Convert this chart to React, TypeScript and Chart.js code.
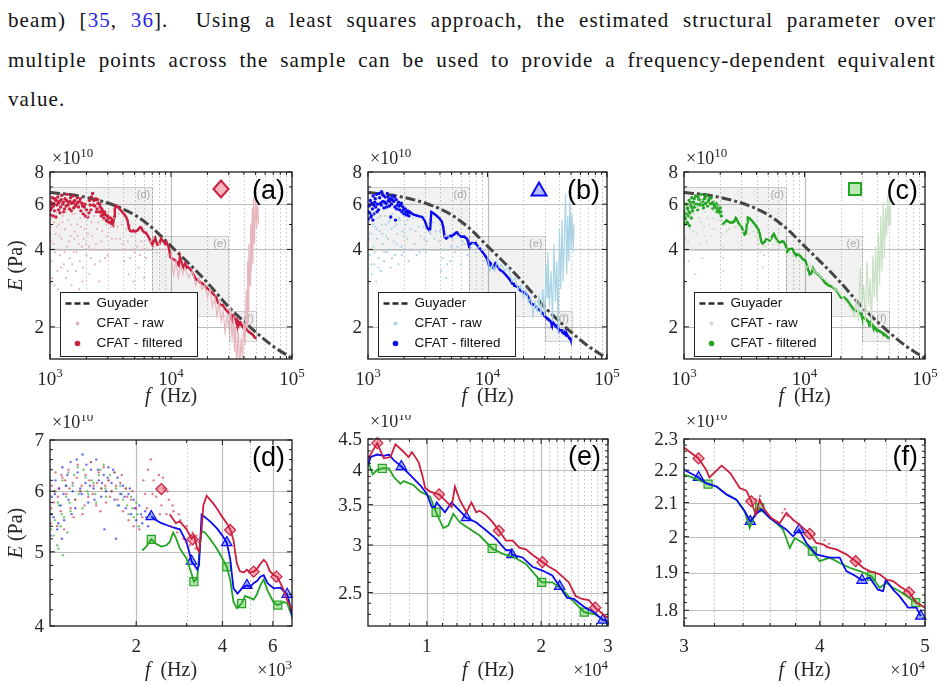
import React, { useEffect, useRef } from "react";
import { Chart, registerables } from "chart.js";

Chart.register(...registerables);

type Pair = [number, number];

// ---------------------------------------------------------------------------
// Data (E in units of 1e10 Pa, f in Hz)
// ---------------------------------------------------------------------------

// Guyader model
const guyaderFreq = [1000, 1500, 2000, 3000, 4000, 5000, 7000, 10000, 15000, 20000, 30000, 40000, 50000, 70000, 100000];
const guyaderModulus = [6.66, 6.53, 6.37, 6.06, 5.75, 5.45, 4.85, 4.12, 3.42, 2.97, 2.39, 2.1, 1.91, 1.68, 1.51];

// CFAT raw estimates, point (a)
const redRawDots: Pair[] = [
  [1010, 4.9], [1020, 4.3], [1030, 3.6], [1045, 3.1], [1050, 5.3], [1070, 4.2], [1080, 5.1], [1090, 2.9],
  [1100, 3.9], [1110, 4.6], [1130, 5.6], [1140, 4.9], [1150, 3.3], [1160, 2.8], [1170, 4.0], [1190, 5.0],
  [1200, 4.5], [1210, 3.8], [1230, 2.7], [1240, 3.4], [1250, 4.4], [1270, 5.1], [1280, 5.4], [1300, 3.5],
  [1320, 3.9], [1330, 4.8], [1350, 5.6], [1360, 3.1], [1390, 4.1], [1400, 3.3], [1420, 5.2], [1440, 4.3],
  [1450, 3.7], [1480, 4.5], [1500, 5.0], [1510, 2.9], [1530, 3.5], [1540, 5.5], [1570, 3.9], [1590, 4.4],
  [1600, 4.7], [1620, 5.5], [1640, 3.3], [1660, 3.9], [1680, 5.0], [1700, 4.5], [1720, 4.2], [1740, 2.8],
  [1760, 3.6], [1780, 5.3], [1800, 4.9], [1830, 4.1], [1850, 3.0], [1880, 3.4], [1900, 4.4], [1930, 4.8],
  [1950, 5.3], [1980, 4.2], [2000, 3.8], [2040, 5.4], [2060, 4.6], [2100, 4.1], [2120, 3.2], [2170, 3.7],
  [2200, 5.1], [2240, 4.5], [2280, 4.0], [2320, 5.4], [2360, 3.5], [2400, 4.2], [2450, 4.8], [2500, 5.1],
  [2550, 3.0], [2600, 3.6], [2650, 4.3], [2700, 4.7], [2750, 5.2], [2800, 4.0], [2850, 3.7], [2900, 5.0],
  [2950, 4.5], [3000, 3.8], [3050, 5.6], [3120, 5.2], [3200, 4.9], [3250, 4.4], [3350, 5.3], [3420, 5.0],
  [3500, 4.4], [3600, 4.9], [3700, 5.5], [3800, 4.4], [3900, 5.0], [4000, 4.2], [4100, 3.6], [4200, 4.0],
  [4300, 4.8], [4400, 4.3], [4500, 3.2], [4600, 3.7], [4700, 4.5], [4800, 4.0], [4900, 3.0], [5000, 3.9],
  [5100, 4.6], [5250, 4.1], [5400, 3.4], [5550, 3.8], [5700, 4.3], [5850, 4.0], [6000, 3.1], [6200, 3.7],
  [6400, 4.0], [6800, 4.3], [7200, 4.1], [7600, 3.9], [8000, 4.2], [8500, 4.0], [9000, 4.0], [9500, 3.8],
];
const redRawTrace: Pair[] = [
  [10000, 3.9], [10500, 3.2], [11000, 3.6], [11500, 3.1], [12000, 3.5], [12500, 3.2], [13000, 3.4], [14000, 3.1],
  [15000, 3.3], [16000, 2.9], [17000, 3.1], [18000, 2.8], [19000, 2.9], [20000, 2.6], [21000, 2.8], [22000, 2.4],
  [23000, 2.6], [24000, 2.2], [25000, 2.5], [26000, 2.1], [27000, 2.3], [28000, 1.9], [29000, 2.2], [30000, 2.0],
  [31000, 2.4], [32000, 1.8], [33000, 2.2], [33500, 1.6], [34000, 2.0], [35000, 1.45], [36000, 1.9], [37000, 1.4],
  [38000, 1.8], [39000, 1.5], [40000, 2.1], [41000, 1.7], [42000, 2.8], [42500, 2.0], [43000, 3.6], [43500, 2.3],
  [44000, 4.2], [45000, 2.9], [45500, 5.0], [46000, 3.3], [47000, 5.8], [47500, 3.5], [48000, 6.4], [49000, 4.2],
  [50000, 6.8], [51000, 4.8], [52000, 6.1], [53000, 5.0],
];

// CFAT raw estimates, point (b)
const blueRawDots: Pair[] = [
  [1010, 5.1], [1020, 4.4], [1030, 3.8], [1050, 4.6], [1060, 3.5], [1070, 3.2], [1090, 5.5], [1100, 5.0],
  [1110, 4.1], [1130, 3.5], [1140, 3.9], [1150, 4.9], [1170, 3.0], [1180, 4.8], [1190, 4.4], [1210, 5.3],
  [1220, 3.4], [1230, 3.7], [1250, 4.7], [1270, 5.4], [1280, 3.3], [1300, 5.0], [1320, 4.6], [1330, 4.2],
  [1360, 3.6], [1370, 3.9], [1390, 5.4], [1410, 5.0], [1420, 4.5], [1450, 3.9], [1470, 4.4], [1480, 5.1],
  [1510, 4.0], [1530, 5.2], [1540, 3.4], [1570, 4.8], [1590, 3.7], [1600, 5.5], [1640, 4.3], [1660, 4.9],
  [1680, 3.8], [1720, 5.0], [1740, 4.2], [1760, 4.6], [1800, 3.5], [1820, 5.3], [1850, 5.2], [1900, 4.1],
  [1920, 3.8], [1950, 4.7], [2000, 3.9], [2020, 4.5], [2060, 5.0], [2120, 4.4], [2150, 5.2], [2200, 3.6],
  [2280, 4.8], [2320, 4.0], [2360, 5.3], [2450, 4.2], [2500, 4.7], [2550, 3.8], [2650, 4.9], [2700, 3.9],
  [2750, 4.5], [2850, 4.0], [2900, 4.9], [2950, 4.4], [3050, 3.9], [3100, 4.3], [3200, 5.0], [3300, 4.7],
  [3350, 4.6], [3500, 5.1], [3600, 4.4], [3700, 4.7], [3900, 4.3], [4000, 4.7], [4100, 3.3], [4200, 3.7],
  [4300, 4.0], [4400, 4.5], [4500, 3.1], [4600, 3.5], [4700, 4.5], [4900, 3.6], [5000, 4.1], [5100, 4.4],
  [5400, 3.9], [5600, 4.1], [5700, 4.5], [6000, 3.5], [6200, 4.3], [6400, 4.2], [6800, 3.8], [7200, 4.1],
  [7600, 4.2], [8000, 3.9], [8500, 4.1], [9000, 4.0], [9500, 3.6],
];
const blueRawTrace: Pair[] = [
  [10000, 3.7], [10500, 3.3], [11000, 3.5], [11500, 3.3], [12000, 3.6], [12500, 3.4], [13000, 3.5], [14000, 3.3],
  [15000, 3.4], [16000, 3.0], [17000, 3.1], [18000, 2.8], [19000, 2.9], [20000, 2.6], [21000, 2.8], [22000, 2.5],
  [23000, 2.6], [24000, 2.2], [25000, 2.5], [26000, 2.3], [27000, 2.6], [28000, 2.2], [29000, 2.8], [30000, 2.2],
  [31000, 3.5], [31500, 2.6], [32000, 3.9], [33000, 2.4], [34000, 3.3], [35000, 2.1], [36000, 4.2], [37000, 2.5],
  [38000, 3.6], [39000, 1.9], [40000, 4.8], [41000, 2.8], [42000, 5.2], [43000, 3.0], [44000, 4.4], [45000, 6.6],
  [46000, 3.2], [47000, 5.4], [48000, 3.6], [49000, 6.3], [50000, 4.0], [51000, 5.5], [52000, 3.9], [53000, 5.0],
];

// CFAT raw estimates, point (c)
const greenRawDots: Pair[] = [
  [1010, 5.9], [1030, 4.4], [1040, 5.6], [1060, 5.2], [1080, 4.3], [1090, 3.6], [1120, 4.8], [1130, 5.4],
  [1150, 6.2], [1180, 4.0], [1200, 4.7], [1210, 5.5], [1240, 3.2], [1260, 5.9], [1270, 4.6], [1300, 5.8],
  [1330, 5.3], [1340, 4.2], [1380, 5.1], [1400, 6.2], [1420, 3.7], [1460, 4.9], [1480, 4.5], [1500, 5.6],
  [1540, 4.3], [1560, 5.3], [1580, 6.0], [1620, 5.0], [1640, 5.9], [1660, 4.5], [1700, 5.7], [1720, 4.8],
  [1750, 5.3], [1800, 6.1], [1820, 5.7], [1850, 4.8], [1900, 5.5], [1920, 5.2], [1950, 5.9], [2050, 5.2],
  [2080, 4.6], [2100, 4.1], [2110, 3.7], [2120, 3.3], [2200, 5.0], [2250, 4.7], [2350, 4.8], [2500, 5.2],
  [2600, 4.9], [2700, 4.9], [2900, 5.3], [3000, 5.0], [3100, 4.7], [3300, 5.1], [3400, 4.8], [3500, 4.6],
  [3700, 4.9], [3800, 4.7], [3900, 4.5], [4100, 4.4], [4200, 4.2], [4300, 3.9], [4500, 3.4], [4600, 3.8],
  [4700, 4.1], [4900, 4.3], [5200, 4.4], [5500, 4.2], [5800, 4.3], [6200, 4.1], [6600, 4.0], [7000, 4.0],
  [7500, 3.9], [8000, 3.8], [8500, 3.7], [9000, 3.6], [9500, 3.55],
];
const greenRawTrace: Pair[] = [
  [10000, 3.5], [10500, 3.4], [11000, 3.5], [12000, 3.3], [13000, 3.2], [14000, 3.1], [15000, 3.05], [16000, 2.95],
  [17000, 2.9], [18000, 2.8], [19000, 2.75], [20000, 2.65], [21000, 2.6], [22000, 2.5], [23000, 2.45], [24000, 2.35],
  [25000, 2.3], [26000, 2.2], [27000, 2.6], [28000, 2.1], [29000, 3.4], [30000, 2.3], [31000, 2.9], [32000, 2.1],
  [33000, 3.6], [34000, 2.4], [35000, 3.1], [36000, 2.0], [37000, 3.8], [38000, 2.6], [39000, 4.1], [40000, 2.5],
  [41000, 4.6], [42000, 2.9], [43000, 5.4], [44000, 3.3], [45000, 6.1], [46000, 3.7], [47000, 5.8], [48000, 4.5],
  [49000, 6.5], [50000, 4.9], [51000, 6.2], [52000, 5.0],
];

// CFAT filtered estimates: scattered low-frequency part
const redCloud: Pair[] = [
  [1005, 5.45], [1010, 5.7], [1015, 6.1], [1030, 5.8], [1035, 6.0], [1045, 6.35], [1060, 5.4], [1065, 5.9],
  [1075, 6.05], [1090, 5.65], [1095, 6.3], [1105, 6.25], [1120, 5.35], [1130, 6.2], [1140, 5.95], [1160, 6.4],
  [1170, 6.05], [1180, 5.7], [1200, 6.15], [1210, 5.55], [1225, 5.85], [1240, 6.25], [1250, 6.5], [1275, 6.0],
  [1290, 6.1], [1300, 5.6], [1320, 5.75], [1330, 6.3], [1360, 5.9], [1370, 6.2], [1390, 6.55], [1410, 5.95],
  [1420, 6.1], [1450, 5.75], [1460, 6.15], [1480, 6.35], [1500, 5.65], [1510, 6.05], [1540, 6.45], [1560, 6.1],
  [1570, 5.8], [1600, 6.2], [1620, 5.9], [1640, 6.0], [1680, 6.35], [1700, 6.1], [1720, 5.85], [1760, 6.15],
  [1780, 6.3], [1800, 5.65], [1840, 6.05], [1860, 5.9], [1880, 5.5], [1920, 5.85], [1940, 6.0], [1960, 5.4],
  [2000, 5.7], [2050, 5.35], [2100, 5.55], [2120, 6.2], [2150, 5.95], [2180, 5.7], [2200, 6.4], [2250, 6.6],
  [2280, 5.95], [2300, 6.2], [2350, 5.9], [2400, 6.3], [2420, 5.6], [2450, 5.75], [2480, 6.25], [2500, 6.05],
  [2550, 5.6], [2570, 6.0], [2600, 5.85], [2650, 5.4], [2680, 5.75], [2700, 5.65], [2780, 5.3], [2820, 5.6],
  [2850, 5.5], [2920, 5.2], [2980, 5.15], [3000, 5.4], [3080, 5.1], [3150, 5.3], [3220, 5.05], [3250, 5.25],
  [3300, 5.15],
  [34950, 2.11], [35100, 2.08], [35250, 2.12], [35450, 2.09], [36950, 2.07], [37150, 2.08], [37350, 2.06],
  [40400, 1.99], [40600, 1.97], [40800, 1.98],
];
const blueCloud: Pair[] = [
  [1005, 5.25], [1010, 5.6], [1015, 5.9], [1030, 5.55], [1040, 5.95], [1045, 6.2], [1060, 5.35], [1070, 5.45],
  [1075, 6.05], [1090, 5.75], [1100, 5.2], [1105, 6.45], [1115, 5.95], [1120, 5.5], [1140, 6.1], [1150, 6.3],
  [1160, 5.85], [1180, 6.55], [1190, 5.6], [1200, 6.0], [1225, 5.7], [1240, 6.6], [1250, 6.35], [1275, 6.05],
  [1290, 5.95], [1300, 6.7], [1330, 6.15], [1340, 6.5], [1360, 5.8], [1380, 6.1], [1390, 6.4], [1420, 6.05],
  [1430, 5.85], [1450, 6.6], [1470, 6.4], [1480, 6.2], [1510, 5.9], [1520, 6.15], [1540, 6.3], [1550, 5.35],
  [1570, 6.0], [1590, 6.25], [1600, 6.45], [1640, 6.15], [1660, 6.4], [1680, 5.85], [1700, 5.2], [1720, 6.25],
  [1740, 5.75], [1760, 5.95], [1800, 6.1], [1820, 5.9], [1840, 5.7], [1880, 5.95], [1900, 6.05], [1920, 5.6],
  [1960, 5.85], [1980, 5.7], [2000, 5.5], [2050, 5.75], [2080, 5.6], [2100, 5.45], [2150, 5.65], [2170, 5.55],
  [2200, 5.4], [2230, 5.6],
];
const greenCloud: Pair[] = [
  [1005, 5.0], [1010, 5.35], [1015, 5.6], [1030, 5.25], [1040, 5.5], [1045, 6.0], [1060, 5.1], [1065, 5.8],
  [1070, 5.05], [1075, 5.75], [1090, 5.4], [1100, 5.6], [1105, 6.2], [1110, 4.95], [1120, 5.55], [1135, 6.1],
  [1140, 5.9], [1150, 5.3], [1160, 6.35], [1170, 5.8], [1180, 5.65], [1200, 6.1], [1215, 6.3], [1225, 5.85],
  [1250, 6.45], [1260, 5.95], [1275, 6.0], [1300, 5.7], [1310, 6.4], [1330, 6.25], [1350, 6.0], [1360, 5.95],
  [1390, 6.55], [1400, 6.2], [1420, 6.15], [1440, 5.95], [1450, 5.8], [1480, 6.3], [1500, 6.4], [1510, 6.05],
  [1540, 6.5], [1560, 6.05], [1570, 5.9], [1600, 6.2], [1620, 6.3], [1640, 6.0], [1680, 6.35], [1700, 6.05],
  [1720, 5.75], [1760, 6.1], [1780, 5.95], [1800, 5.85], [1840, 6.05], [1860, 5.75], [1880, 5.6], [1920, 5.9],
  [1940, 5.7], [1960, 5.55], [2000, 5.8], [2020, 5.6], [2040, 5.4],
];

// CFAT filtered estimates: continuous part
const redFiltered: Pair[] = [
  [2620, 5.6], [2750, 5.45], [2841, 5.48], [2998, 5.35], [3122, 5.2], [3181, 5.25], [3268, 5.05], [3313, 5.0],
  [3385, 5.35], [3431, 5.75], [3525, 5.92], [3620, 5.85], [3720, 5.78], [3822, 5.7], [4000, 5.55], [4143, 5.45],
  [4257, 5.35], [4373, 5.18], [4430, 5.0], [4493, 4.83], [4600, 4.72], [4750, 4.7], [4871, 4.74], [5000, 4.7],
  [5141, 4.71], [5282, 4.75], [5426, 4.82], [5575, 4.88], [5700, 4.84], [5850, 4.72], [6045, 4.66], [6210, 4.64],
  [6380, 4.55], [6554, 4.45], [6733, 4.32], [6900, 4.25],
  [7016, 4.18], [7200, 4.3], [7406, 4.43], [7550, 4.3], [7708, 4.18], [8023, 4.2], [8268, 4.41], [8604, 4.31],
  [8957, 4.2], [9139, 4.28], [9512, 4.12], [9750, 3.9], [9901, 3.73], [10200, 3.68], [10770, 3.64], [11160, 3.56],
  [11620, 3.47], [11860, 3.75], [12220, 3.56], [12720, 3.4], [13100, 3.53], [13500, 3.4], [13780, 3.42], [14340, 3.36],
  [14920, 3.27], [15470, 3.17], [16170, 3.05], [16830, 3.05], [17520, 2.97], [18230, 2.95], [18970, 2.89], [20150, 2.81],
  [20970, 2.76], [21840, 2.72], [22730, 2.66], [23650, 2.6], [24620, 2.47], [25620, 2.44], [26680, 2.43], [27770, 2.36],
  [28910, 2.31], [29610, 2.28],
  [30000, 2.272], [30940, 2.237], [31440, 2.201], [31660, 2.177], [32490, 2.214], [33100, 2.19], [33760, 2.144],
  [34240, 2.136], [34600, 2.104], [34920, 2.064], [35220, 2.109], [35600, 2.078], [36100, 2.054], [36750, 2.039],
  [37270, 2.069], [37800, 2.049], [38340, 2.034], [39160, 2.008], [39710, 1.982], [40280, 1.978], [40850, 1.968],
  [41440, 1.964], [42320, 1.95], [43170, 1.931], [43850, 1.913], [44470, 1.904], [45420, 1.895], [46070, 1.881],
  [46730, 1.877], [47390, 1.863], [48340, 1.847], [49100, 1.82], [49970, 1.807],
];
const blueFiltered: Pair[] = [
  [2258, 5.56], [2351, 5.5], [2449, 5.45], [2550, 5.42], [2691, 5.38], [2841, 5.35], [2998, 5.15], [3122, 4.86],
  [3200, 4.8], [3268, 4.74], [3313, 4.8], [3385, 5.59], [3477, 5.55], [3620, 5.48], [3822, 5.37], [4000, 5.25],
  [4143, 5.14], [4257, 4.9], [4373, 4.48], [4517, 4.41], [4677, 4.48], [4871, 4.52], [5000, 4.5], [5141, 4.55],
  [5282, 4.58], [5426, 4.64], [5575, 4.66], [5750, 4.55], [6045, 4.48], [6380, 4.49], [6554, 4.44], [6733, 4.4],
  [6900, 4.25],
  [7016, 4.09], [7116, 4.2], [7406, 4.24], [7708, 4.22], [7943, 4.24], [8185, 4.15], [8570, 4.05], [9048, 3.92],
  [9607, 3.77], [10000, 3.65], [10300, 3.47], [10510, 3.47], [10620, 3.53], [11160, 3.4], [11620, 3.53], [12720, 3.33],
  [13500, 3.27], [14340, 3.17], [15220, 3.07], [16170, 2.94], [16660, 2.94], [16760, 2.89], [17870, 2.86], [18970, 2.76],
  [20150, 2.72], [21400, 2.67], [22370, 2.56], [23420, 2.45], [24380, 2.44], [26150, 2.36], [27770, 2.31], [29080, 2.25],
  [29610, 2.25],
  [30000, 2.201], [30940, 2.177], [31440, 2.159], [32140, 2.149], [32850, 2.124], [33520, 2.109], [34120, 2.074],
  [34530, 2.044], [34920, 2.064], [35350, 2.08], [35980, 2.054], [36750, 2.034], [37270, 2.02], [37800, 2.001],
  [38290, 2.02], [38880, 1.982], [39710, 1.95], [40850, 1.941], [41730, 1.941], [42320, 1.904], [43190, 1.89],
  [43750, 1.879], [44470, 1.886], [45260, 1.854], [45750, 1.85], [46010, 1.881], [46730, 1.854], [47390, 1.836],
  [48240, 1.807], [49100, 1.807], [49550, 1.785],
];
const greenFiltered: Pair[] = [
  [2100, 5.02], [2169, 5.08], [2258, 5.19], [2351, 5.12], [2449, 5.08], [2550, 5.1], [2620, 5.15], [2691, 5.3],
  [2750, 5.22], [2841, 5.05], [2998, 4.9], [3122, 4.68], [3181, 4.57], [3268, 4.62], [3340, 5.1], [3385, 5.32],
  [3477, 5.3], [3620, 5.2], [3822, 5.05], [4000, 4.9], [4143, 4.78], [4257, 4.6], [4373, 4.3], [4493, 4.22],
  [4666, 4.28], [4800, 4.38], [4937, 4.36], [5141, 4.33], [5282, 4.4], [5426, 4.52], [5575, 4.6], [5750, 4.45],
  [6045, 4.29], [6244, 4.26], [6554, 4.3], [6733, 4.28], [6900, 4.18],
  [7016, 4.12], [7200, 3.93], [7406, 4.0], [7632, 4.02], [7943, 4.02], [8185, 3.89], [8520, 3.79], [8692, 3.83],
  [9231, 3.77], [9607, 3.68], [10200, 3.61], [10580, 3.4], [11050, 3.2], [11390, 3.23], [11740, 3.38], [12220, 3.27],
  [12970, 3.19], [13780, 3.11], [14860, 2.96], [15850, 2.9], [16830, 2.87], [18230, 2.79], [20070, 2.6], [21400, 2.6],
  [22730, 2.53], [24130, 2.43], [25980, 2.32], [27770, 2.3], [29610, 2.24],
  [30000, 2.185], [30360, 2.18], [31570, 2.156], [32140, 2.149], [32850, 2.124], [33520, 2.109], [34120, 2.074],
  [34480, 2.025], [34850, 2.064], [35220, 2.085], [35730, 2.064], [36490, 2.039], [37010, 2.02], [37540, 1.968],
  [37940, 1.996], [38610, 1.982], [39380, 1.959], [40000, 1.931], [40850, 1.941], [41730, 1.926], [42620, 1.913],
  [43540, 1.904], [44630, 1.89], [45420, 1.859], [46070, 1.872], [46730, 1.859], [47390, 1.85], [49030, 1.82],
  [49970, 1.807],
];

// Marker positions along the filtered curves
const redMarkers: Pair[] = [
  [2449, 6.04], [3147, 5.19], [4257, 5.34], [5141, 4.71], [6176, 4.64], [7406, 4.43], [10770, 3.64], [15470, 3.17],
  [20150, 2.81], [27770, 2.36], [30940, 2.237], [34600, 2.104], [39160, 2.008], [43170, 1.931], [48340, 1.847],
];
const blueMarkers: Pair[] = [
  [2258, 5.56], [3122, 4.86], [4143, 5.14], [4871, 4.52], [6733, 4.4], [8570, 4.05], [12720, 3.33], [16760, 2.89],
  [22370, 2.56], [29080, 2.25], [30940, 2.177], [34530, 2.044], [38290, 2.02], [43750, 1.879], [49550, 1.785],
];
const greenMarkers: Pair[] = [
  [2258, 5.19], [3181, 4.57], [4143, 4.78], [4666, 4.28], [6244, 4.26], [7632, 4.02], [10580, 3.4], [14860, 2.96],
  [20070, 2.6], [25980, 2.32], [31570, 2.156], [35220, 2.085], [39380, 1.959], [44630, 1.89], [49030, 1.82],
];

// Axis ranges and tick labels
const overviewFRange: Pair = [1000, 100000];
const overviewERange: Pair = [1.5, 8];
const dFRange: Pair = [1000, 7000];
const dERange: Pair = [4, 7];
const eFRange: Pair = [7000, 30000];
const eERange: Pair = [2.2, 4.5];
const fFRange: Pair = [30000, 50000];
const fERange: Pair = [1.76, 2.3];

const overviewFTicks = [1000, 10000, 100000];
const overviewFTickExp = ["3", "4", "5"];
const overviewETicks = [2, 4, 6, 8];
const overviewETickLabels = ["2", "4", "6", "8"];
const dFTicks = [2000, 4000, 6000];
const dFTickLabels = ["2", "4", "6"];
const dETicks = [4, 5, 6, 7];
const dETickLabels = ["4", "5", "6", "7"];
const eFTicks = [10000, 20000, 30000];
const eFTickLabels = ["1", "2", "3"];
const eETicks = [2.5, 3, 3.5, 4, 4.5];
const eETickLabels = ["2.5", "3", "3.5", "4", "4.5"];
const fFTicks = [30000, 40000, 50000];
const fFTickLabels = ["3", "4", "5"];
const fETicks = [1.8, 1.9, 2, 2.1, 2.2, 2.3];
const fETickLabels = ["1.8", "1.9", "2", "2.1", "2.2", "2.3"];

// Zoom regions outlined on the overview panels
const zoomBoxes = [
  { label: "(d)", f: dFRange, e: dERange },
  { label: "(e)", f: eFRange, e: eERange },
  { label: "(f)", f: fFRange, e: fERange },
];

// ---------------------------------------------------------------------------
// Styling
// ---------------------------------------------------------------------------

const SERIF = '"Liberation Serif", "Times New Roman", serif';
const SANS = '"Liberation Sans", Arial, Helvetica, sans-serif';

const SERIES: Record<string, any> = {
  red: {
    main: "#cc1f3f", raw: "#e6b6be", cloud: "rgba(204,31,63,0.6)", markerFill: "rgba(242,160,170,0.9)",
    bigFill: "#f5b7bc", style: "rectRot", markerSize: 5.5,
    rawDots: redRawDots, rawTrace: redRawTrace, cloudPts: redCloud, line: redFiltered, markers: redMarkers,
  },
  blue: {
    main: "#0b0bf2", raw: "#aad4e5", cloud: "rgba(11,11,242,0.6)", markerFill: "rgba(150,168,255,0.9)",
    bigFill: "#b7c3ff", style: "triangle", markerSize: 6,
    rawDots: blueRawDots, rawTrace: blueRawTrace, cloudPts: blueCloud, line: blueFiltered, markers: blueMarkers,
  },
  green: {
    main: "#23a523", raw: "#c8e1c4", cloud: "rgba(35,165,35,0.6)", markerFill: "rgba(168,224,158,0.9)",
    bigFill: "#c0e9b6", style: "rect", markerSize: 5.7,
    rawDots: greenRawDots, rawTrace: greenRawTrace, cloudPts: greenCloud, line: greenFiltered, markers: greenMarkers,
  },
};

const stepRange = (a: number, b: number, step: number) => {
  const out: number[] = [];
  for (let v = a; v <= b + 1e-9; v += step) out.push(+v.toFixed(4));
  return out;
};
const without = (arr: number[], ex: number[]) => arr.filter((v) => !ex.some((e) => Math.abs(e - v) < 1e-6));

const overviewMinor = [...stepRange(2000, 9000, 1000), ...stepRange(20000, 90000, 10000)];
const eMinor = without(stepRange(8000, 29000, 1000), [10000, 20000]);
const fMinor = without(stepRange(32000, 48000, 2000), [40000]);

const AXES: Record<string, any> = {
  top: {
    xRange: overviewFRange, yRange: overviewERange, xTicks: overviewFTicks, xLabels: overviewFTickExp, xPow: true,
    xMinor: overviewMinor, xSolid: [10000], xDotted: overviewMinor,
    yTicks: overviewETicks, yLabels: overviewETickLabels, yMinor: [3, 5, 7], ySolid: [2, 4, 6],
    xExp: null, expBase: 8, titleBase: 43,
  },
  d: {
    xRange: dFRange, yRange: dERange, xTicks: dFTicks, xLabels: dFTickLabels, xPow: false,
    xMinor: [3000, 5000], xSolid: [2000, 4000, 6000], xDotted: [3000, 5000],
    yTicks: dETicks, yLabels: dETickLabels, yMinor: without(stepRange(4.2, 6.8, 0.2), [5, 6]), ySolid: [5, 6],
    xExp: "3", expBase: 12, titleBase: 50,
  },
  e: {
    xRange: eFRange, yRange: eERange, xTicks: eFTicks, xLabels: eFTickLabels, xPow: false,
    xMinor: eMinor, xSolid: [10000, 20000], xDotted: eMinor,
    yTicks: eETicks, yLabels: eETickLabels, yMinor: without(stepRange(2.3, 4.4, 0.1), [2.5, 3, 3.5, 4]),
    ySolid: [2.5, 3, 3.5, 4], xExp: "4", expBase: 12, titleBase: 50,
  },
  f: {
    xRange: fFRange, yRange: fERange, xTicks: fFTicks, xLabels: fFTickLabels, xPow: false,
    xMinor: fMinor, xSolid: [40000], xDotted: fMinor,
    yTicks: fETicks, yLabels: fETickLabels, yMinor: without(stepRange(1.78, 2.28, 0.02), [1.8, 1.9, 2, 2.1, 2.2]),
    ySolid: [1.8, 1.9, 2, 2.1, 2.2], xExp: "4", expBase: 12, titleBase: 50,
  },
};

const PANELS = [
  { id: "a", axes: "top", color: "red", label: "(a)", yTitle: true, canvas: { x: 0, y: 140, w: 318, h: 275 }, area: { l: 50, t: 172, r: 292, b: 359 } },
  { id: "b", axes: "top", color: "blue", label: "(b)", yTitle: false, canvas: { x: 318, y: 140, w: 318, h: 275 }, area: { l: 368, t: 172, r: 607, b: 359 } },
  { id: "c", axes: "top", color: "green", label: "(c)", yTitle: false, canvas: { x: 636, y: 140, w: 308, h: 275 }, area: { l: 684, t: 172, r: 925, b: 359 } },
  { id: "d", axes: "d", color: null, label: "(d)", yTitle: true, canvas: { x: 0, y: 415, w: 318, h: 271 }, area: { l: 50, t: 440, r: 292, b: 626 } },
  { id: "e", axes: "e", color: null, label: "(e)", yTitle: false, canvas: { x: 318, y: 415, w: 318, h: 271 }, area: { l: 368, t: 439, r: 608, b: 626 } },
  { id: "f", axes: "f", color: null, label: "(f)", yTitle: false, canvas: { x: 636, y: 415, w: 308, h: 271 }, area: { l: 684, t: 439, r: 925, b: 626 } },
];

// ---------------------------------------------------------------------------
// Drawing helpers
// ---------------------------------------------------------------------------

const toPts = (arr: Pair[]) => arr.map(([x, y]) => ({ x, y }));

function seg(ctx: CanvasRenderingContext2D, x0: number, y0: number, x1: number, y1: number) {
  ctx.beginPath();
  ctx.moveTo(x0, y0);
  ctx.lineTo(x1, y1);
  ctx.stroke();
}

function supText(ctx: CanvasRenderingContext2D, base: string, sup: string, x: number, y: number,
  align: string, baseSize: number, supSize: number, rise: number) {
  ctx.font = `${baseSize}px ${SERIF}`;
  const w1 = ctx.measureText(base).width;
  ctx.font = `${supSize}px ${SERIF}`;
  const w2 = ctx.measureText(sup).width;
  const total = w1 + w2;
  const x0 = align === "center" ? x - total / 2 : align === "right" ? x - total : x;
  ctx.textAlign = "left";
  ctx.textBaseline = "alphabetic";
  ctx.font = `${baseSize}px ${SERIF}`;
  ctx.fillText(base, x0, y);
  ctx.font = `${supSize}px ${SERIF}`;
  ctx.fillText(sup, x0 + w1, y - rise);
}

function mixedText(ctx: CanvasRenderingContext2D, italicPart: string, rest: string, cx: number, y: number, size: number) {
  ctx.font = `italic ${size}px ${SERIF}`;
  const w1 = ctx.measureText(italicPart).width;
  ctx.font = `${size}px ${SERIF}`;
  const w2 = ctx.measureText(rest).width;
  const x0 = cx - (w1 + w2) / 2;
  ctx.textAlign = "left";
  ctx.font = `italic ${size}px ${SERIF}`;
  ctx.fillText(italicPart, x0, y);
  ctx.font = `${size}px ${SERIF}`;
  ctx.fillText(rest, x0 + w1, y);
}

function decorPlugin(panel: any) {
  const ax = AXES[panel.axes];
  const isTop = panel.axes === "top";
  return {
    id: "decor",
    beforeDatasetsDraw(chart: any) {
      const ctx: CanvasRenderingContext2D = chart.ctx;
      const { left, top, right, bottom } = chart.chartArea;
      const X = (v: number) => chart.scales.x.getPixelForValue(v);
      const Y = (v: number) => chart.scales.y.getPixelForValue(v);
      ctx.save();
      ctx.fillStyle = "#ffffff";
      ctx.fillRect(left, top, right - left, bottom - top);

      ctx.lineWidth = 1;
      ctx.strokeStyle = "#c2c2c2";
      ctx.setLineDash([1.5, 2.5]);
      ax.xDotted.forEach((v: number) => {
        const p = Math.round(X(v)) + 0.5;
        seg(ctx, p, top, p, bottom);
      });
      ctx.setLineDash([]);
      ctx.strokeStyle = "#bdbdbd";
      ctx.lineWidth = 1.2;
      ax.xSolid.forEach((v: number) => {
        const p = Math.round(X(v)) + 0.5;
        seg(ctx, p, top, p, bottom);
      });
      ax.ySolid.forEach((v: number) => {
        const p = Math.round(Y(v)) + 0.5;
        seg(ctx, left, p, right, p);
      });

      if (isTop) {
        ctx.beginPath();
        ctx.rect(left, top, right - left, bottom - top);
        ctx.clip();
        zoomBoxes.forEach((b) => {
          const x0 = X(b.f[0]);
          const x1 = X(b.f[1]);
          const y0 = Y(b.e[1]);
          const y1 = Y(b.e[0]);
          ctx.fillStyle = "rgba(0,0,0,0.055)";
          ctx.fillRect(x0, y0, x1 - x0, y1 - y0);
          ctx.strokeStyle = "rgba(0,0,0,0.16)";
          ctx.lineWidth = 1;
          ctx.strokeRect(Math.round(x0) + 0.5, Math.round(y0) + 0.5, Math.round(x1 - x0), Math.round(y1 - y0));
          ctx.fillStyle = "#a9a9a9";
          ctx.font = `11px ${SANS}`;
          ctx.textAlign = "right";
          ctx.textBaseline = "middle";
          ctx.fillText(b.label, x1 - 2, y0 + 8);
        });
      }
      ctx.restore();
    },
    afterDatasetsDraw(chart: any) {
      const ctx: CanvasRenderingContext2D = chart.ctx;
      const { left, top, right, bottom } = chart.chartArea;
      const X = (v: number) => chart.scales.x.getPixelForValue(v);
      const Y = (v: number) => chart.scales.y.getPixelForValue(v);
      ctx.save();
      ctx.setLineDash([]);

      // axes box
      ctx.strokeStyle = "#1c1c1c";
      ctx.lineWidth = 1.3;
      ctx.strokeRect(left, top, right - left, bottom - top);

      // inward tick marks
      ctx.lineWidth = 1;
      const xTick = (v: number, len: number) => {
        const p = X(v);
        seg(ctx, p, bottom, p, bottom - len);
        seg(ctx, p, top, p, top + len);
      };
      const yTick = (v: number, len: number) => {
        const p = Y(v);
        seg(ctx, left, p, left + len, p);
        seg(ctx, right, p, right - len, p);
      };
      ax.xTicks.forEach((v: number) => xTick(v, 5));
      ax.xMinor.forEach((v: number) => xTick(v, 3));
      ax.yTicks.forEach((v: number) => yTick(v, 5));
      ax.yMinor.forEach((v: number) => yTick(v, 3));

      // tick labels
      ctx.fillStyle = "#262626";
      ax.yTicks.forEach((v: number, i: number) => {
        ctx.font = `19px ${SERIF}`;
        ctx.textAlign = "right";
        ctx.textBaseline = "middle";
        ctx.fillText(ax.yLabels[i], left - 6, Y(v) + 1);
      });
      ax.xTicks.forEach((v: number, i: number) => {
        if (ax.xPow) {
          supText(ctx, "10", ax.xLabels[i], X(v), bottom + 26, "center", 19, 13, 8);
        } else {
          ctx.font = `19px ${SERIF}`;
          ctx.textAlign = "center";
          ctx.textBaseline = "alphabetic";
          ctx.fillText(ax.xLabels[i], X(v), bottom + 26);
        }
      });

      // exponent multipliers
      supText(ctx, "\u00d710", "10", left + 2, top - ax.expBase, "left", 18, 13, 7);
      if (ax.xExp) supText(ctx, "\u00d710", ax.xExp, right, bottom + 50, "right", 18, 13, 7);

      // axis titles
      ctx.textBaseline = "alphabetic";
      mixedText(ctx, "f", "  (Hz)", (left + right) / 2, bottom + ax.titleBase, 20);
      if (panel.yTitle) {
        ctx.save();
        ctx.translate(left - 28, (top + bottom) / 2);
        ctx.rotate(-Math.PI / 2);
        mixedText(ctx, "E", " (Pa)", 0, 0, 20);
        ctx.restore();
      }

      // panel letter
      ctx.fillStyle = "#000000";
      ctx.font = `27px ${SANS}`;
      ctx.textAlign = "right";
      ctx.textBaseline = "middle";
      ctx.fillText(panel.label, right - 7, top + (isTop ? 20 : 19));

      if (isTop) {
        const s = SERIES[panel.color];
        // point symbol
        const mx = left + 171;
        const my = top + 17;
        ctx.lineWidth = 2;
        ctx.strokeStyle = s.main;
        ctx.fillStyle = s.bigFill;
        ctx.beginPath();
        if (panel.color === "red") {
          ctx.moveTo(mx, my - 8.5);
          ctx.lineTo(mx + 7.5, my);
          ctx.lineTo(mx, my + 8.5);
          ctx.lineTo(mx - 7.5, my);
        } else if (panel.color === "blue") {
          ctx.moveTo(mx, my - 6.5);
          ctx.lineTo(mx + 7.5, my + 6.5);
          ctx.lineTo(mx - 7.5, my + 6.5);
        } else {
          ctx.rect(mx - 6, my - 6, 12, 12);
        }
        ctx.closePath();
        ctx.fill();
        ctx.stroke();

        // legend
        const lx = left + 10.5;
        const ly = bottom - 66.5;
        const lw = 137;
        const lh = 64;
        ctx.fillStyle = "#ffffff";
        ctx.fillRect(lx, ly, lw, lh);
        ctx.strokeStyle = "#222222";
        ctx.lineWidth = 1;
        ctx.strokeRect(lx, ly, lw, lh);
        ctx.strokeStyle = "#2a2a2a";
        ctx.lineWidth = 2.6;
        ctx.setLineDash([6, 3]);
        seg(ctx, lx + 5, ly + 11, lx + 30, ly + 11);
        ctx.setLineDash([]);
        ctx.fillStyle = s.raw;
        ctx.beginPath();
        ctx.arc(lx + 17, ly + 31, 2, 0, Math.PI * 2);
        ctx.fill();
        ctx.fillStyle = s.main;
        ctx.beginPath();
        ctx.arc(lx + 17, ly + 51, 2.8, 0, Math.PI * 2);
        ctx.fill();
        ctx.fillStyle = "#111111";
        ctx.font = `13.5px ${SANS}`;
        ctx.textAlign = "left";
        ctx.textBaseline = "middle";
        ctx.fillText("Guyader", lx + 36, ly + 11);
        ctx.fillText("CFAT - raw", lx + 36, ly + 31);
        ctx.fillText("CFAT - filtered", lx + 36, ly + 51);
      }
      ctx.restore();
    },
  };
}

function overviewDatasets(key: string) {
  const s = SERIES[key];
  return [
    { data: toPts(s.rawDots), showLine: false, pointRadius: 1.1, pointBackgroundColor: s.raw, pointBorderWidth: 0, clip: 0 },
    { data: toPts(s.rawTrace), showLine: true, borderColor: s.raw, borderWidth: 1.2, pointRadius: 0, clip: 0 },
    { data: toPts(s.cloudPts), showLine: false, pointRadius: 1.7, pointBackgroundColor: s.main, pointBorderWidth: 0, clip: 0 },
    { data: toPts(s.line), showLine: true, borderColor: s.main, borderWidth: 2.4, pointRadius: 1.1, pointBackgroundColor: s.main, pointBorderWidth: 0, clip: 0 },
    {
      data: guyaderFreq.map((f, i) => ({ x: f, y: guyaderModulus[i] })), showLine: true, borderColor: "#454545",
      borderWidth: 3, borderDash: [10, 3, 3, 3], pointRadius: 0, cubicInterpolationMode: "monotone", clip: 0,
    },
  ];
}

function zoomDatasets(fRange: Pair) {
  const out: any[] = [];
  ["red", "blue", "green"].forEach((key) => {
    const s = SERIES[key];
    out.push({ data: toPts(s.cloudPts), showLine: false, pointRadius: 1.2, pointBackgroundColor: s.cloud, pointBorderWidth: 0, clip: 0 });
    out.push({ data: toPts(s.line), showLine: true, borderColor: s.main, borderWidth: 1.8, pointRadius: 0, clip: 0 });
  });
  ["red", "blue", "green"].forEach((key) => {
    const s = SERIES[key];
    const m = s.markers.filter(([f]: Pair) => f >= fRange[0] && f <= fRange[1]);
    out.push({
      data: toPts(m), showLine: false, pointStyle: s.style, pointRadius: s.markerSize,
      pointBackgroundColor: s.markerFill, pointBorderColor: s.main, pointBorderWidth: 1.2, clip: false,
    });
  });
  return out;
}

function Panel({ panel }: { panel: any }) {
  const ref = useRef<HTMLCanvasElement | null>(null);
  useEffect(() => {
    if (!ref.current) return;
    const ax = AXES[panel.axes];
    const c = panel.canvas;
    const a = panel.area;
    const chart = new Chart(ref.current, {
      type: "scatter",
      data: { datasets: (panel.axes === "top" ? overviewDatasets(panel.color) : zoomDatasets(ax.xRange)) as any },
      options: {
        animation: false,
        responsive: false,
        maintainAspectRatio: false,
        events: [],
        layout: { padding: { left: a.l - c.x, top: a.t - c.y, right: c.x + c.w - a.r, bottom: c.y + c.h - a.b } },
        plugins: { legend: { display: false }, tooltip: { enabled: false } },
        scales: {
          x: { type: "logarithmic", min: ax.xRange[0], max: ax.xRange[1], display: false },
          y: { type: "logarithmic", min: ax.yRange[0], max: ax.yRange[1], display: false },
        },
      } as any,
      plugins: [decorPlugin(panel) as any],
    });
    return () => chart.destroy();
  }, [panel]);
  const c = panel.canvas;
  return (
    <canvas
      ref={ref}
      width={c.w}
      height={c.h}
      style={{ position: "absolute", left: c.x, top: c.y, width: c.w, height: c.h }}
    />
  );
}

const justified: React.CSSProperties = { textAlign: "justify", textAlignLast: "justify" };
const cite: React.CSSProperties = { color: "#2525ee" };

export default function App() {
  return (
    <div style={{ position: "absolute", left: 0, top: 0, width: 944, height: 686, background: "#ffffff", overflow: "hidden" }}>
      <div
        style={{
          position: "absolute", left: 8, top: 1, width: 928, fontFamily: SERIF, fontSize: "21px",
          lineHeight: "39.5px", letterSpacing: "1.1px", color: "#111111",
        }}
      >
        <div style={justified}>
          beam) [<span style={cite}>35</span>, <span style={cite}>36</span>].&nbsp; Using a least squares approach, the estimated structural parameter over
        </div>
        <div style={justified}>
          multiple points across the sample can be used to provide a frequency-dependent equivalent
        </div>
        <div>value.</div>
      </div>
      {PANELS.map((p) => (
        <Panel key={p.id} panel={p} />
      ))}
    </div>
  );
}
